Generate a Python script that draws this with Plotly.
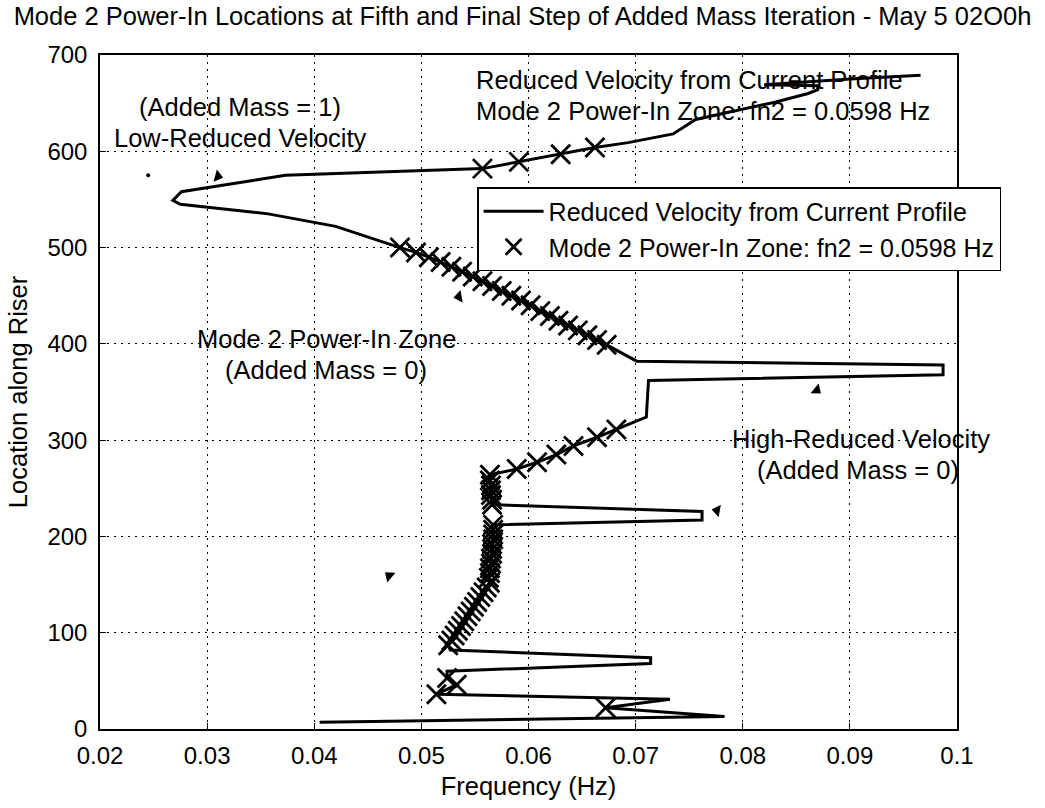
import plotly.graph_objects as go

# ---------------- data ----------------
# Reduced velocity profile (frequency in Hz vs location along riser), bottom to top
line_freq = [0.0405, 0.0783, 0.0672, 0.0732, 0.0514, 0.0533, 0.0524, 0.0524, 0.0714, 0.0714,
             0.0527, 0.0525, 0.0528, 0.0531, 0.0534, 0.0537, 0.0540, 0.0543, 0.0546, 0.0549,
             0.0552, 0.0555, 0.0558, 0.0561, 0.0564,
             0.0563, 0.0564, 0.0564, 0.0565, 0.0565, 0.0566, 0.0566, 0.0566, 0.0567, 0.0567,
             0.0567, 0.0567, 0.0762, 0.0762, 0.0566, 0.0566, 0.0565, 0.0565, 0.0565, 0.0564,
             0.0564, 0.0589, 0.0608, 0.0626, 0.0642, 0.0664, 0.0682, 0.0710, 0.0712, 0.0987,
             0.0987, 0.0701, 0.0673, 0.0664, 0.0655, 0.0646, 0.0637, 0.0628, 0.0620, 0.0611,
             0.0602, 0.0593, 0.0584, 0.0575, 0.0566, 0.0557, 0.0548, 0.0538, 0.0528, 0.0518,
             0.0507, 0.0495, 0.0480, 0.0420, 0.0357, 0.0275, 0.0268, 0.0276, 0.0373, 0.0557,
             0.0591, 0.0630, 0.0662, 0.0693, 0.0735, 0.0756, 0.0772, 0.0830, 0.0861, 0.0870,
             0.0870, 0.0820, 0.0900, 0.0966]
line_loc = [7, 13, 22, 31, 36, 46, 53, 60, 68, 74,
            82, 87, 92, 97, 102, 107, 112, 117, 122, 127,
            132, 137, 142, 147, 152,
            157, 162, 167, 172, 177, 182, 187, 192, 197, 202,
            207, 212, 217, 226, 233, 238, 243, 248, 253, 258,
            264, 270, 277, 285, 294, 303, 311, 324, 362, 368,
            378, 382, 399, 404, 409, 414, 419, 424, 429, 434,
            440, 445, 450, 455, 460, 465, 470, 475, 480, 485,
            490, 495, 500, 522, 535, 545, 549, 558, 575, 582,
            589, 597, 604, 609, 618, 633, 637, 651, 660, 664,
            668, 669, 675, 679]

# Mode 2 power-in zone points
zone_freq = [0.0672, 0.0514, 0.0533, 0.0524,
             0.0525, 0.0528, 0.0531, 0.0534, 0.0537, 0.0540, 0.0543, 0.0546, 0.0549,
             0.0552, 0.0555, 0.0558, 0.0561, 0.0564,
             0.0563, 0.0564, 0.0564, 0.0565, 0.0565, 0.0566, 0.0566, 0.0566, 0.0567, 0.0567,
             0.0567, 0.0567, 0.0566, 0.0566, 0.0565, 0.0565, 0.0565, 0.0564, 0.0564,
             0.0589, 0.0608, 0.0626, 0.0642, 0.0664, 0.0682,
             0.0673, 0.0664, 0.0655, 0.0646, 0.0637, 0.0628, 0.0620, 0.0611, 0.0602, 0.0593,
             0.0584, 0.0575, 0.0566, 0.0557, 0.0548, 0.0538, 0.0528, 0.0518, 0.0507, 0.0495,
             0.0480,
             0.0557, 0.0591, 0.0630, 0.0662]
zone_loc = [22, 36, 46, 53,
            87, 92, 97, 102, 107, 112, 117, 122, 127,
            132, 137, 142, 147, 152,
            157, 162, 167, 172, 177, 182, 187, 192, 197, 202,
            207, 212, 233, 238, 243, 248, 253, 258, 264,
            270, 277, 285, 294, 303, 311,
            399, 404, 409, 414, 419, 424, 429, 434, 440, 445,
            450, 455, 460, 465, 470, 475, 480, 485, 490, 495,
            500,
            582, 589, 597, 604]

# small arrow heads left on the figure
head_freq = [0.0310, 0.0535, 0.0869, 0.0776, 0.0470]
head_loc = [574, 449, 352, 227, 159]
head_symbol = ["triangle-right", "triangle-left", "triangle-right", "triangle-left", "triangle-left"]
head_angle = [15, -10, 40, 10, 40]
dot_freq = [0.0245]
dot_loc = [575]

x_ticks = [0.02, 0.03, 0.04, 0.05, 0.06, 0.07, 0.08, 0.09, 0.1]
x_ticklabels = ["0.02", "0.03", "0.04", "0.05", "0.06", "0.07", "0.08", "0.09", "0.1"]
y_ticks = [0, 100, 200, 300, 400, 500, 600, 700]
y_ticklabels = ["0", "100", "200", "300", "400", "500", "600", "700"]

title_text = "Mode 2 Power-In Locations at Fifth and Final Step of Added Mass Iteration - May 5 02O0h"
legend_line = "Reduced Velocity from Current Profile"
legend_zone = "Mode 2 Power-In Zone: fn2 = 0.0598 Hz"

FONT = "Liberation Sans, Arial, Helvetica, sans-serif"
FS_TICK = 24
FS_TEXT = 25.5
FS_LEGEND = 25
FS_TITLE = 25.5

fig = go.Figure()
fig.add_trace(go.Scatter(x=line_freq, y=line_loc, mode="lines", name=legend_line,
                         line=dict(color="black", width=3)))
fig.add_trace(go.Scatter(x=zone_freq, y=zone_loc, mode="markers", name=legend_zone,
                         marker=dict(symbol="x-thin", size=19, color="black",
                                     line=dict(color="black", width=2.8))))
fig.add_trace(go.Scatter(x=head_freq, y=head_loc, mode="markers", showlegend=False,
                         marker=dict(symbol=head_symbol, angle=head_angle, size=11, color="black")))
fig.add_trace(go.Scatter(x=dot_freq, y=dot_loc, mode="markers", showlegend=False,
                         marker=dict(symbol="circle", size=4, color="black")))

ann = [
    dict(x=0.0331, y=646, text="(Added Mass = 1)", xanchor="center"),
    dict(x=0.0331, y=614, text="Low-Reduced Velocity", xanchor="center"),
    dict(x=0.0549, y=674, text="Reduced Velocity from Current Profile", xanchor="left"),
    dict(x=0.0549, y=642, text="Mode 2 Power-In Zone: fn2 = 0.0598 Hz", xanchor="left"),
    dict(x=0.0411, y=405, text="Mode 2 Power-In Zone", xanchor="center"),
    dict(x=0.0411, y=373, text="(Added Mass = 0)", xanchor="center"),
    dict(x=0.0910, y=301, text="High-Reduced Velocity", xanchor="center"),
    dict(x=0.0908, y=269, text="(Added Mass = 0)", xanchor="center"),
]
for a in ann:
    fig.add_annotation(xref="x", yref="y", showarrow=False, yanchor="middle",
                       font=dict(family=FONT, size=FS_TEXT, color="black"), **a)

axis_common = dict(showgrid=True, gridcolor="black", gridwidth=1, griddash="2px,5px",
                   zeroline=False, showline=True, linecolor="black", linewidth=1.5,
                   mirror=True, ticks="inside", ticklen=6, tickcolor="black",
                   tickfont=dict(family=FONT, size=FS_TICK, color="black"))

fig.update_xaxes(range=[0.02, 0.1], tickvals=x_ticks, ticktext=x_ticklabels,
                 title=dict(text="Frequency (Hz)", font=dict(family=FONT, size=FS_TEXT), standoff=10),
                 ticklabelstandoff=4, **axis_common)
fig.update_yaxes(range=[0, 700], tickvals=y_ticks, ticktext=y_ticklabels,
                 title=dict(text="Location along Riser", font=dict(family=FONT, size=FS_TEXT), standoff=12),
                 ticklabelstandoff=6, **axis_common)

fig.update_layout(
    width=1045, height=808,
    margin=dict(l=100, r=88, t=55, b=70),
    paper_bgcolor="white", plot_bgcolor="white",
    font=dict(family=FONT, size=FS_TEXT, color="black"),
    title=dict(text=title_text, x=0.5, xref="container", xanchor="center",
               y=1 - 16 / 808, yref="container", yanchor="middle",
               font=dict(family=FONT, size=FS_TITLE, color="black")),
    legend=dict(x=0.44, y=0.804, xanchor="left", yanchor="top",
                bgcolor="white", bordercolor="black", borderwidth=1.5,
                font=dict(family=FONT, size=FS_LEGEND, color="black"),
                itemwidth=60, tracegroupgap=0),
    showlegend=True,
)

fig.write_html("out.html")
